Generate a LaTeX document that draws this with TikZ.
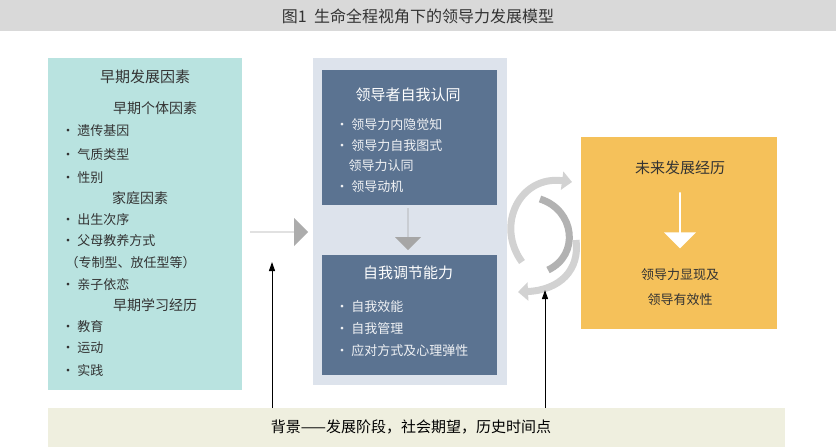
\documentclass[tikz,border=0pt]{standalone}
\usepackage{fontspec}
\setmainfont{Noto Sans CJK SC}
\usetikzlibrary{arrows.meta,shapes.arrows}
\definecolor{teal1}{HTML}{B9E3E0}
\definecolor{panel}{HTML}{DDE3EC}
\definecolor{dark}{HTML}{5B7391}
\definecolor{orng}{HTML}{F5C15A}
\definecolor{beige}{HTML}{EFEFDF}
\definecolor{ttl}{HTML}{D9D9D9}
\definecolor{txt}{HTML}{333333}
\begin{document}
\begin{tikzpicture}[x=1pt,y=-1pt,
  hd/.style={font=\fontsize{15}{17}\selectfont,text=txt},
  it/.style={font=\fontsize{13}{15}\selectfont,text=txt,anchor=west},
  hdw/.style={font=\fontsize{15}{17}\selectfont,text=white},
  itw/.style={font=\fontsize{13}{15}\selectfont,text=white!90!dark,anchor=west},
  blk/.style={single arrow,fill=#1,draw=none,minimum height=0pt,single arrow head extend=6pt,inner sep=0pt}]
\useasboundingbox (0,0) rectangle (836,447);
\fill[white] (0,0) rectangle (836,447);
\fill[ttl] (0,0) rectangle (836,31);
\node (title) at (418,16) {\fontsize{16}{18}\selectfont\color{txt}图1\ \ 生命全程视角下的领导力发展模型};
% left box
\node[fill=teal1,minimum width=194pt,minimum height=332pt,inner sep=0pt] (lb) at (145,224) {};
\node[hd] (l1) at (145,77) {早期发展因素};
\node[hd,font=\fontsize{14}{16}\selectfont] (l2) at (155,108) {早期个体因素};
\node[it] at (58,131) {· 遗传基因};
\node[it] at (58,155) {· 气质类型};
\node[it] at (58,178) {· 性别};
\node[hd,font=\fontsize{14}{16}\selectfont] at (140,198) {家庭因素};
\node[it] at (58,220) {· 出生次序};
\node[it] at (58,241) {· 父母教养方式};
\node[it] at (62,263) {（专制型、放任型等）};
\node[it] at (58,284) {· 亲子依恋};
\node[hd,font=\fontsize{14}{16}\selectfont] at (155,305) {早期学习经历};
\node[it] at (58,327) {· 教育};
\node[it] at (58,348) {· 运动};
\node[it] at (58,370) {· 实践};
% middle
\node[fill=panel,minimum width=194pt,minimum height=327pt,inner sep=0pt] (mp) at (410,221.5) {};
\node[fill=dark,minimum width=175pt,minimum height=135pt,inner sep=0pt] (ub) at (409.5,137.5) {};
\node[hdw] at (408,95) {领导者自我认同};
\node[itw] at (332,125) {· 领导力内隐觉知};
\node[itw] at (332,146) {· 领导力自我图式};
\node[itw] at (345,166) {领导力认同};
\node[itw] at (332,187) {· 领导动机};
\node[fill=dark,minimum width=175pt,minimum height=120pt,inner sep=0pt] (lw) at (409.5,315) {};
\node[hdw] at (408,273) {自我调节能力};
\node[itw] at (332,307) {· 自我效能};
\node[itw] at (332,329) {· 自我管理};
\node[itw] at (332,351) {· 应对方式及心理弹性};
\node[blk=gray!70,rotate=-90,minimum width=26pt,minimum height=42pt,single arrow head extend=6pt] (da) at (408,229) {};
% left-to-middle arrow
\node[blk=gray!65,minimum width=28pt,minimum height=58pt] (ra) at (279,232) {};
% right box
\node[fill=orng,minimum width=196pt,minimum height=192pt,inner sep=0pt] (rb) at (679,233) {};
\node[hd] at (680,168) {未来发展经历};
\node[blk=white,rotate=-90,minimum width=32pt,minimum height=56pt,single arrow head extend=4pt] (wa) at (680,220) {};
\node[font=\fontsize{13}{15}\selectfont,text=txt] at (680,275) {领导力显现及};
\node[font=\fontsize{13}{15}\selectfont,text=txt] at (680,300) {领导有效性};
% cycle arrows
\draw[gray!35,line width=7pt,-{Triangle[length=10pt,width=18pt]}] (522,262) .. controls (495,225) and (520,175) .. (572,182);
\draw[gray!60,line width=7pt] (540,199) .. controls (575,210) and (580,255) .. (548,270);
\draw[gray!35,line width=7pt,-{Triangle[length=10pt,width=18pt]}] (576,240) .. controls (580,270) and (560,290) .. (518,292);
% bottom bar
\node[fill=beige,minimum width=737pt,minimum height=39pt,inner sep=0pt] (bb) at (416.5,427.5) {};
\node[font=\fontsize{15}{17}\selectfont,text=black] at (411,427) {背景——发展阶段，社会期望，历史时间点};
\coordinate (a1) at (272,262);
\coordinate (a2) at (545,290);
\draw[-{Triangle[length=9pt,width=6pt]},line width=1pt] (272,408) -- (a1);
\draw[-{Triangle[length=9pt,width=6pt]},line width=1pt] (545,408) -- (a2);
\end{tikzpicture}
\end{document}
